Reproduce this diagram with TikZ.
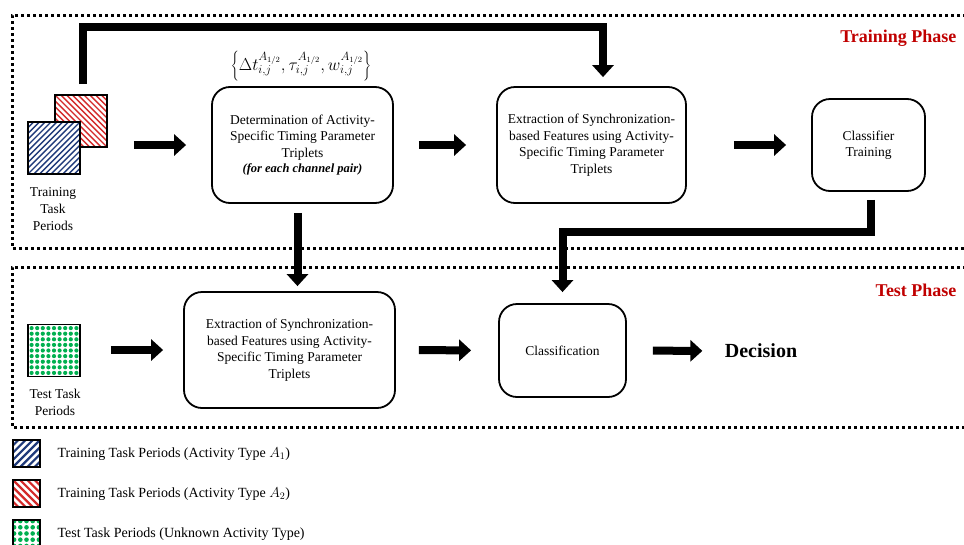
\documentclass[tikz,border=0pt]{standalone}
\usepackage{fontspec}
\setmainfont{Liberation Serif}
\usetikzlibrary{arrows.meta,calc}
\definecolor{navy}{HTML}{1F3A7A}
\definecolor{hred}{HTML}{D42A2A}
\definecolor{dgreen}{HTML}{00B050}
\definecolor{phase}{HTML}{C00000}
\tikzset{
  procbox/.style={draw, line width=1.8pt, rounded corners=18pt, align=center,
    font=\fontsize{13.5}{16.5}\selectfont},
  phasebox/.style={line width=3pt, dash pattern=on 3pt off 3pt},
  bigarrow/.style={line width=8pt, -{Triangle[length=12pt,width=21pt]}},
  lbl/.style={align=center, font=\fontsize{13.5}{17}\selectfont},
  legtext/.style={anchor=west, font=\fontsize{14}{16}\selectfont},
  sqframe/.style={draw, line width=1.8pt, inner sep=0pt, fill=white},
  hatchNE/.style 2 args={path picture={
    \foreach \k in {-12,...,12}
      \draw[#1] ($(path picture bounding box.center)+(\k*#2-40,40)$) -- ++(80,-80);}},
  hatchNW/.style 2 args={path picture={
    \foreach \k in {-12,...,12}
      \draw[#1] ($(path picture bounding box.center)+(\k*#2-40,-40)$) -- ++(80,80);}},
  dots/.style 2 args={path picture={
    \foreach \i in {-4,...,4} \foreach \j in {-4,...,4}
      \fill[dgreen] ($(path picture bounding box.center)+(\i*#1,\j*#1)$) circle (#2);}},
}
\begin{document}
\begin{tikzpicture}[x=1pt,y=-1pt]
\useasboundingbox (0,0) rectangle (964,544);
\clip (0,0) rectangle (964,544);

% phase frames
\draw[phasebox] (990,15) -- (12,15) -- (12,248) -- (990,248);
\draw[phasebox] (990,267) -- (12,267) -- (12,427) -- (990,427);
\node[anchor=east, text=phase, font=\bfseries\fontsize{18}{20}\selectfont] (trph) at (960,38) {Training Phase};
\node[anchor=east, text=phase, font=\bfseries\fontsize{18}{20}\selectfont] (teph) at (960,290) {Test Phase};

% training squares
\node[sqframe, minimum size=52pt, hatchNW={hred, line width=1.35pt}{5.8}] (red) at (81,121) {};
\node[sqframe, minimum size=52pt, hatchNE={navy, line width=1.35pt}{5.8}] (blue) at (54,148) {};
\node[lbl] (trlbl) at (53,209) {Training\\Task\\Periods};

% test square
\node[sqframe, minimum size=52pt, dots={5.6}{2.1pt}] (green) at (54,350.5) {};
\node[lbl] (telbl) at (55,402.5) {Test Task\\Periods};

% boxes
\node[procbox, minimum width=181pt, minimum height=116pt] (box1) at (302.5,145)
  {Determination of Activity-\\Specific Timing Parameter\\Triplets\\[-1pt]
   {\bfseries\itshape\fontsize{12.5}{14}\selectfont (for each channel pair)}};
\node[font=\fontsize{17}{19}\selectfont] (formula) at (301,66)
  {$\left\{\Delta t_{i,j}^{A_{1/2}},\tau_{i,j}^{A_{1/2}},w_{i,j}^{A_{1/2}}\right\}$};
\node[procbox, minimum width=189pt, minimum height=116pt] (box2) at (591.5,145)
  {Extraction of Synchronization-\\based Features using Activity-\\Specific Timing Parameter\\Triplets};
\node[procbox, minimum width=113pt, minimum height=92pt] (box3) at (868.5,145)
  {Classifier\\Training};
\node[procbox, minimum width=211pt, minimum height=116pt] (box4) at (289.5,350)
  {Extraction of Synchronization-\\based Features using Activity-\\Specific Timing Parameter\\Triplets};
\node[procbox, minimum width=127pt, minimum height=93pt] (box5) at (562.5,350.5)
  {Classification};
\node[font=\bfseries\fontsize{20}{22}\selectfont] (dec) at (761,351) {Decision};

% horizontal arrows
\draw[bigarrow, shorten <=26pt, shorten >=25pt] (box1.west -| red.east) -- (box1.west);
\draw[bigarrow, shorten <=25pt, shorten >=30pt] (box1.east) -- (box2.west);
\draw[bigarrow, shorten <=47pt, shorten >=25pt] (box2.east) -- (box3.west);
\draw[bigarrow, shorten <=30pt, shorten >=20pt] (box4.west -| green.east) -- (box4.west);
\draw[bigarrow, shorten <=23pt, shorten >=27pt] (box4.east) -- (box5.west);
\draw[bigarrow, shorten <=26pt, shorten >=19pt] (box5.east) -- (dec.west);

% top feedback path
\coordinate (topc) at (603,27);
\coordinate (tstart) at ($(red.north)+(2,-10)$);
\draw[bigarrow, shorten >=9pt] (tstart) |- (topc) -- (topc |- box2.north);

% box1 down to box4
\coordinate (b1s) at ($(box1.south)+(-5,0)$);
\draw[bigarrow, shorten <=9pt, shorten >=5pt] (b1s) -- (b1s |- box4.north);

% classifier to classification
\coordinate (mid) at (562.5,232);
\coordinate (b3s) at ($(box3.south)+(2.5,0)$);
\draw[bigarrow, shorten <=8pt, shorten >=11pt] (b3s) |- (mid) -- (box5.north);

% legend
\node[sqframe, minimum size=27pt, hatchNE={navy, line width=2.2pt}{7.2}] (lg1) at (26.5,453.5) {};
\node[sqframe, minimum size=27pt, hatchNW={hred, line width=2.2pt}{7.2}] (lg2) at (26.5,493.5) {};
\node[sqframe, minimum size=27pt, dots={6.2}{2.3pt}] (lg3) at (26.5,533.5) {};
\node[legtext] (lt1) at (54,454) {Training Task Periods (Activity Type $A_1$)};
\node[legtext] (lt2) at (54,494) {Training Task Periods (Activity Type $A_2$)};
\node[legtext] (lt3) at (54,534) {Test Task Periods (Unknown Activity Type)};
\end{tikzpicture}
\end{document}
